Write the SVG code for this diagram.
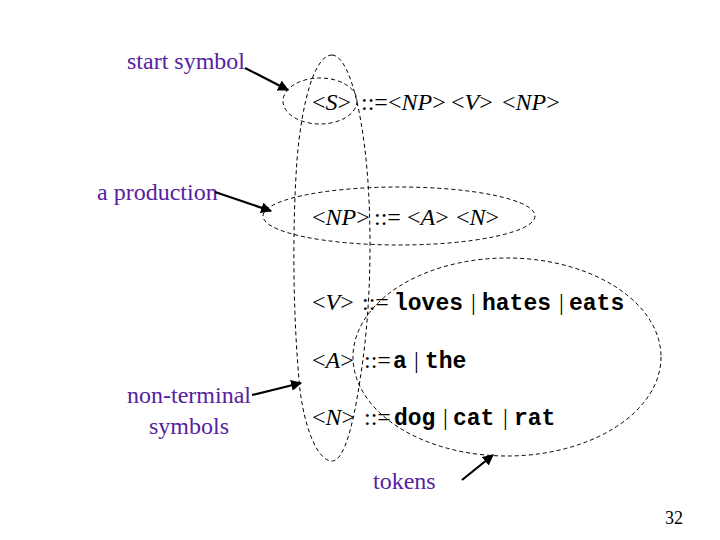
<svg xmlns="http://www.w3.org/2000/svg" width="720" height="540" viewBox="0 0 720 540">
<style>
.lbl{font-family:"Liberation Serif","Times New Roman",serif;font-size:24px;fill:#5522A0}
.t{font-family:"Liberation Serif","Times New Roman",serif;font-size:24px;fill:#000}
.i{font-style:italic}
.m{font-family:"Liberation Mono","Courier New",monospace;font-size:23px;font-weight:bold;fill:#000}
.d{fill:none;stroke:#000;stroke-width:1;stroke-dasharray:4 3}
.a{fill:none;stroke:#000;stroke-width:2.2;marker-end:url(#ah)}
</style>
<defs>
<marker id="ah" viewBox="0 0 10 10" refX="9" refY="5" markerWidth="5" markerHeight="5" orient="auto" markerUnits="strokeWidth">
<path d="M0,0 L10,5 L0,10 z" fill="#000"/>
</marker>
</defs>
<rect width="720" height="540" fill="#fff"/>

<g id="grammar">
<g id="rule-s">
<text class="t" x="312" y="110">&lt;<tspan class="i">S</tspan>&gt;</text>
<text class="t" x="361" y="110">::=</text>
<text class="t" x="388" y="110">&lt;<tspan class="i">NP</tspan>&gt;</text>
<text class="t" x="451" y="110">&lt;<tspan class="i">V</tspan>&gt;</text>
<text class="t" x="502" y="110">&lt;<tspan class="i">NP</tspan>&gt;</text>
</g>
<g id="rule-np">
<text class="t" x="312" y="225">&lt;<tspan class="i">NP</tspan>&gt;</text>
<text class="t" x="374" y="225">::=</text>
<text class="t" x="407" y="225">&lt;<tspan class="i">A</tspan>&gt;</text>
<text class="t" x="456" y="225">&lt;<tspan class="i">N</tspan>&gt;</text>
</g>
<g id="rule-v">
<text class="t" x="312" y="310">&lt;<tspan class="i">V</tspan>&gt;</text>
<text class="t" x="362" y="310">::=</text>
<text class="m" y="310"><tspan x="394">loves</tspan><tspan x="482">hates</tspan><tspan x="569">eats</tspan></text>
<text class="t" y="310"><tspan x="471">|</tspan><tspan x="559">|</tspan></text>
</g>
<g id="rule-a">
<text class="t" x="312" y="368">&lt;<tspan class="i">A</tspan>&gt;</text>
<text class="t" x="364" y="368">::=</text>
<text class="m" y="368"><tspan x="393">a</tspan><tspan x="425">the</tspan></text>
<text class="t" y="368"><tspan x="414">|</tspan></text>
</g>
<g id="rule-n">
<text class="t" x="312" y="425">&lt;<tspan class="i">N</tspan>&gt;</text>
<text class="t" x="364" y="425">::=</text>
<text class="m" y="425"><tspan x="394">dog</tspan><tspan x="453">cat</tspan><tspan x="514">rat</tspan></text>
<text class="t" y="425"><tspan x="443">|</tspan><tspan x="503">|</tspan></text>
</g>
</g>

<g id="outlines">
<ellipse id="start-ellipse" class="d" cx="320" cy="101" rx="37" ry="23"/>
<ellipse id="production-ellipse" class="d" cx="399" cy="216" rx="136" ry="29"/>
<ellipse id="tokens-ellipse" class="d" cx="507" cy="357" rx="154" ry="99"/>
<path id="nonterminal-loop" class="d" d="M332,55 C352,56 366,130 369,200 C372,270 368,330 360,380 C354,420 345,461 332,461 C318,461 305,430 300,390 C293,320 292,230 297,160 C302,100 315,55 332,55 Z"/>
</g>

<g id="labels">
<g id="lbl-start"><text class="lbl" x="127" y="69">start symbol</text></g>
<g id="lbl-production"><text class="lbl" x="97" y="200">a production</text></g>
<g id="lbl-nonterminal"><text class="lbl" text-anchor="middle"><tspan x="189" y="403">non-terminal</tspan><tspan x="189" y="434">symbols</tspan></text></g>
<g id="lbl-tokens"><text class="lbl" x="373" y="489">tokens</text></g>
</g>

<g id="connectors">
<line class="a" x1="245" y1="68" x2="288" y2="90"/>
<line class="a" x1="215" y1="192" x2="271" y2="211"/>
<line class="a" x1="252" y1="395" x2="301" y2="383"/>
<line class="a" x1="462" y1="480" x2="493" y2="455"/>
</g>

<text x="683" y="524" text-anchor="end" font-family="Liberation Serif, serif" font-size="18" fill="#000">32</text>
</svg>
